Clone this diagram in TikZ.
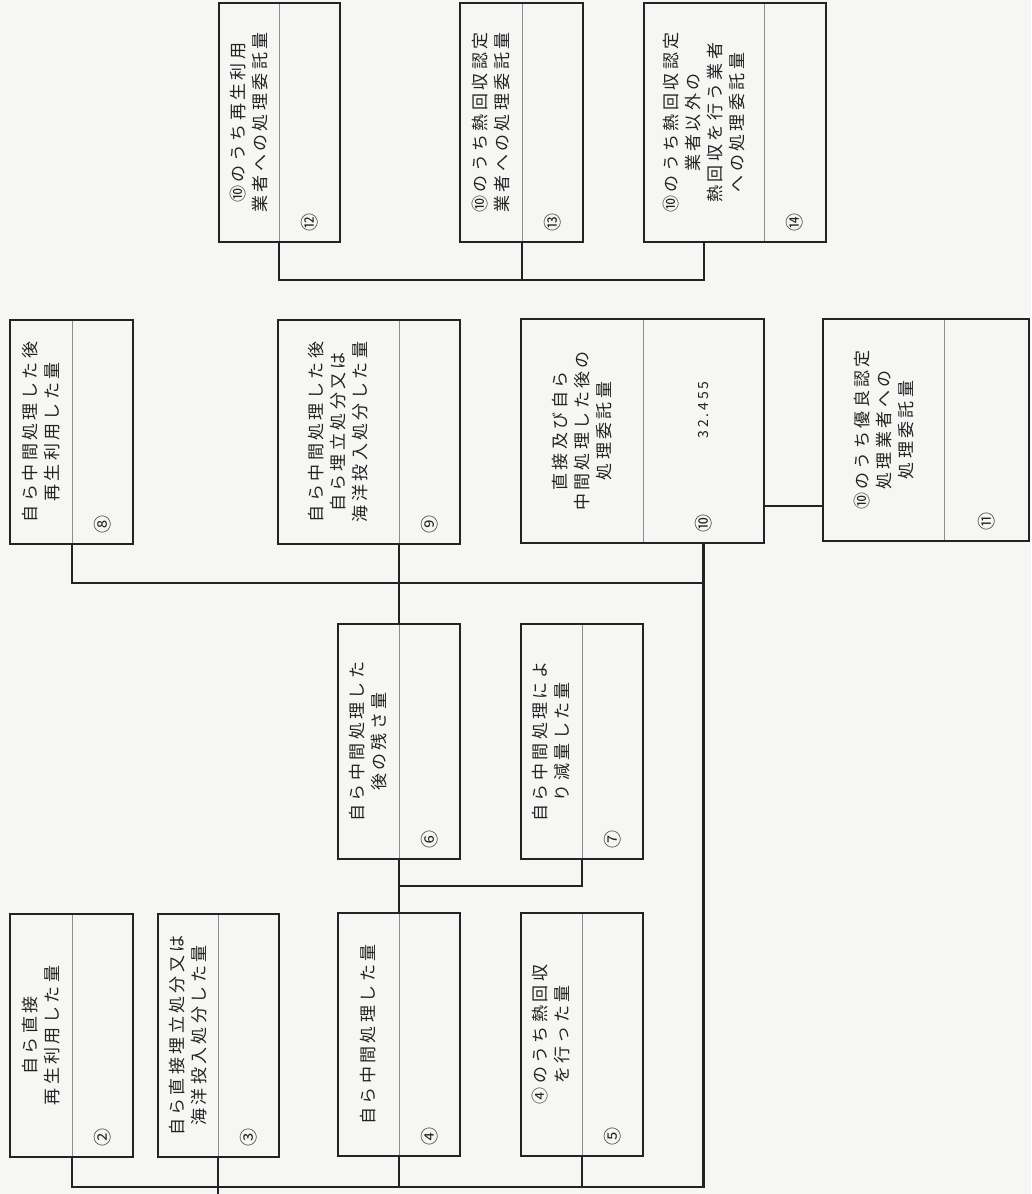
\documentclass[tikz,border=0pt]{standalone}
\usepackage{fontspec}
\newfontfamily\jp[LetterSpace=20]{Noto Sans CJK JP}
\usetikzlibrary{positioning, calc}
\definecolor{paper}{RGB}{246,246,244}
\definecolor{ink}{RGB}{35,35,35}

\begin{document}
\begin{tikzpicture}[x=1pt, y=-1pt,
    panel/.style={draw=black!45, line width=0.5pt, inner sep=0pt, outer sep=0pt, anchor=north west},
    frame/.style={draw=ink, line width=2.4pt},
    link/.style={draw=ink, line width=2.1pt},
    lbl/.style={rotate=90, align=center, text=ink, font=\jp\fontsize{17}{22}\selectfont},
    num/.style={rotate=90, text=ink, font=\jp\fontsize{18}{18}\selectfont}]
    \useasboundingbox (0,0) rectangle (1031,1194);
    \fill[paper] (0,0) rectangle (1031,1194);

    % boxes: name/left/top/label width/value width/height
    \foreach \bn/\bx/\by/\bw/\vw/\bh in {
        2/10/914/62/61/243, 3/158/914/60/61/243,
        4/338/913/61/61/243, 5/521/913/61/61/243,
        6/338/624/61/61/235, 7/521/624/61/61/235,
        8/10/320/62/61/224, 9/278/320/121/61/224,
        10/521/319/122/121/224, 11/823/319/121/85/222,
        12/219/3/60/61/239, 13/460/3/62/61/239, 14/644/3/120/62/239} {
        \node[panel, minimum width=\bw pt, minimum height=\bh pt] (l\bn) at (\bx,\by) {};
        \node[panel, minimum width=\vw pt, minimum height=\bh pt] (v\bn) at (l\bn.north east) {};
        \draw[frame] (l\bn.north west) rectangle (v\bn.south east);
    };

    \node[lbl] (t2) at (l2) {自ら直接\\再生利用した量};
    \node[lbl] (t3) at (l3) {自ら直接埋立処分又は\\海洋投入処分した量};
    \node[lbl] (t4) at (l4) {自ら中間処理した量};
    \node[lbl] (t5) at (l5) {④のうち熱回収\\を行った量};
    \node[lbl] (t6) at (l6) {自ら中間処理した\\後の残さ量};
    \node[lbl] (t7) at (l7) {自ら中間処理によ\\り減量した量};
    \node[lbl] (t8) at (l8) {自ら中間処理した後\\再生利用した量};
    \node[lbl] (t9) at (l9) {自ら中間処理した後\\自ら埋立処分又は\\海洋投入処分した量};
    \node[lbl] (t10) at (l10) {直接及び自ら\\中間処理した後の\\処理委託量};
    \node[lbl] (t11) at (l11) {⑩のうち優良認定\\処理業者への\\処理委託量};
    \node[lbl] (t12) at (l12) {⑩のうち再生利用\\業者への処理委託量};
    \node[lbl] (t13) at (l13) {⑩のうち熱回収認定\\業者への処理委託量};
    \node[lbl] (t14) at (l14) {⑩のうち熱回収認定\\業者以外の\\熱回収を行う業者\\への処理委託量};

    \node[num] (n2) at ([yshift=20pt]v2.south) {②};
    \node[num] (n3) at ([yshift=20pt]v3.south) {③};
    \node[num] (n4) at ([yshift=20pt]v4.south) {④};
    \node[num] (n5) at ([yshift=20pt]v5.south) {⑤};
    \node[num] (n6) at ([yshift=20pt]v6.south) {⑥};
    \node[num] (n7) at ([yshift=20pt]v7.south) {⑦};
    \node[num] (n8) at ([yshift=20pt]v8.south) {⑧};
    \node[num] (n9) at ([yshift=20pt]v9.south) {⑨};
    \node[num] (n10) at ([yshift=20pt]v10.south) {⑩};
    \node[num] (n11) at ([yshift=20pt]v11.south) {⑪};
    \node[num] (n12) at ([yshift=20pt]v12.south) {⑫};
    \node[num] (n13) at ([yshift=20pt]v13.south) {⑬};
    \node[num] (n14) at ([yshift=20pt]v14.south) {⑭};
    \node[num, font=\jp\fontsize{14}{14}\selectfont] (val10) at ([yshift=21pt]v10.center) {32.455};

    \coordinate (busA) at (0,280);
    \coordinate (busB) at (0,583);
    \coordinate (busC) at (0,886);
    \coordinate (busD) at (0,1187);
    \coordinate (tie) at (0,506);
    \coordinate (tail) at (0,1194);

    \draw[link] (l12.south east) |- (l14.south |- busA) -- (l14.south);
    \draw[link] (l13.south east) -- (l13.south east |- busA);
    \draw[link] (l8.south east) |- (v10.south |- busB);
    \draw[link] (v10.south east |- tie) -- (l11.south west |- tie);
    \draw[link] (l9.south east) -- (l6.north east);
    \draw[link] (l6.south east) -- (l4.north east);
    \draw[link] (l7.south east) |- (l6.south east |- busC);
    \draw[link] (l2.south east) |- (v10.south |- busD) -- (v10.south);
    \foreach \k in {4,5} \draw[link] (l\k.south east) -- (l\k.south east |- busD);
    \draw[link] (l3.south east) -- (l3.south east |- tail);
\end{tikzpicture}
\end{document}
